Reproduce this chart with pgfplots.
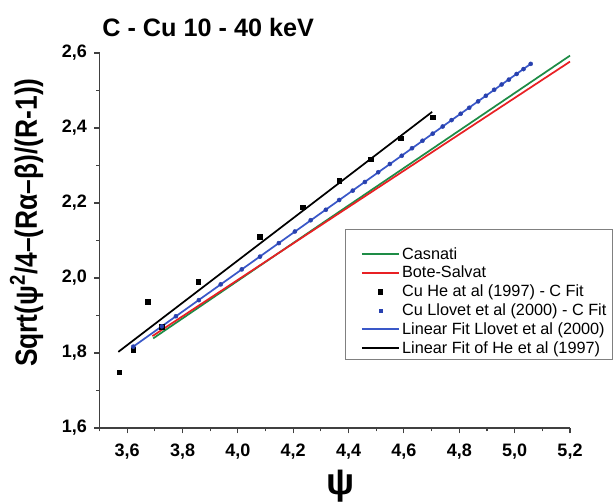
\documentclass[border=0pt]{standalone}
\usepackage{fontspec}
\setmainfont{Liberation Sans}
\usepackage{pgfplots}
\pgfplotsset{compat=1.18}
\definecolor{cgreen}{RGB}{30,140,70}
\definecolor{cred}{RGB}{232,32,36}
\definecolor{cblue}{RGB}{58,88,200}
\definecolor{cbluem}{RGB}{40,65,175}
\begin{document}
\begin{tikzpicture}
\begin{axis}[
  name=ax, at={(0pt,0pt)}, anchor=south west,
  scale only axis, width=352.875pt, height=281.25pt,
  xmin=3.5, xmax=5.2, ymin=1.6, ymax=2.6,
  axis lines*=left,
  axis line style={line width=0.8pt, draw=black!75},
  xtick={3.6,3.8,4.0,4.2,4.4,4.6,4.8,5.0,5.2},
  minor xtick={3.5,3.7,3.9,4.1,4.3,4.5,4.7,4.9,5.1},
  ytick={1.6,1.8,2.0,2.2,2.4,2.6},
  minor ytick={1.7,1.9,2.1,2.3,2.5},
  tick align=outside,
  major tick length=4pt, minor tick length=2.5pt,
  every tick/.style={line width=0.8pt, black!75},
  /pgf/number format/assume math mode=true,
  /pgf/number format/.cd, fixed, fixed zerofill, precision=1, use comma, /pgfplots/.cd,
  ticklabel style={font=\bfseries\fontsize{13.5}{14}\selectfont},
  xticklabel style={yshift=-4.5pt},
  yticklabel style={xshift=-2pt},
  clip=false,
  legend style={at={(rel axis cs:0.555,0.4875)}, anchor=north west, draw=none, fill=none,
    font=\fontsize{12.2}{14}\selectfont, inner sep=0pt, row sep=0.95pt,
    nodes={inner sep=1.4pt}},
  legend cell align=left,
]
% Casnati
\addplot[draw=cgreen, line width=1.3pt, no marks,
  legend image code/.code={\draw[cgreen, line width=1.5pt] (0pt,0.3pt) -- (28pt,0.3pt);}]
  coordinates {(3.694,1.839) (4.321,2.154) (5.2,2.593)};
\addlegendentry{Casnati}
% Bote-Salvat
\addplot[draw=cred, line width=1.3pt, no marks,
  legend image code/.code={\draw[cred, line width=1.5pt] (0pt,0.3pt) -- (28pt,0.3pt);}]
  coordinates {(3.691,1.845) (4.321,2.151) (5.2,2.577)};
\addlegendentry{Bote-Salvat}
% He points
\addplot[only marks, mark=square*, mark size=1.7pt, black,
  legend image code/.code={\fill[black] (12.4pt,-1.6pt) rectangle (15.6pt,1.6pt);}] coordinates {
(3.571,1.749) (3.622,1.808) (3.674,1.937) (3.725,1.870) (3.857,1.990) (4.080,2.110)
(4.234,2.188) (4.366,2.259) (4.480,2.317) (4.588,2.373) (4.704,2.429)};
\addlegendentry{Cu He at al (1997) - C Fit}
% Llovet points
\addplot[only marks, mark=*, mark size=1.5pt, cbluem,
  legend image code/.code={\fill[cbluem] (12.7pt,-1.3pt) rectangle (15.3pt,1.3pt);}] coordinates {
(3.622,1.817) (3.725,1.871) (3.776,1.898) (3.859,1.941) (3.938,1.983) (4.014,2.023)
(4.080,2.057) (4.148,2.093) (4.206,2.124) (4.263,2.154) (4.318,2.182) (4.366,2.208)
(4.415,2.233) (4.459,2.256) (4.507,2.282) (4.549,2.304) (4.592,2.326) (4.629,2.346)
(4.667,2.366) (4.704,2.385) (4.740,2.404) (4.772,2.421) (4.805,2.438) (4.836,2.454)
(4.868,2.471) (4.896,2.486) (4.926,2.502) (4.953,2.516) (4.979,2.529) (5.007,2.544)
(5.032,2.557) (5.058,2.571)};
\addlegendentry{Cu Llovet et al (2000) - C Fit}
% Linear fit Llovet
\addplot[draw=cblue, line width=1.3pt, no marks,
  legend image code/.code={\draw[cblue, line width=1.5pt] (0pt,0.3pt) -- (28pt,0.3pt);}]
  coordinates {(3.622,1.817) (5.058,2.571)};
\addlegendentry{Linear Fit Llovet et al (2000)}
% Linear fit He
\addplot[draw=black, line width=1.3pt, no marks,
  legend image code/.code={\draw[black, line width=1.5pt] (0pt,0.3pt) -- (28pt,0.3pt);}]
  coordinates {(3.568,1.803) (4.702,2.443)};
\addlegendentry{Linear Fit of He et al (1997)}
\end{axis}
% legend frame
\draw[black!50, line width=0.6pt] (184.1pt,149.0pt) rectangle (384.4pt,51.5pt);
% title
\node[anchor=base, font=\bfseries\fontsize{18.9}{21}\selectfont] at (81.5pt,293.25pt) {C - Cu 10 - 40 keV};
% y label
\node[anchor=base, rotate=90, font=\bfseries\fontsize{23}{24}\selectfont] at (-46.9pt,154pt)
  {\scalebox{0.86}[1]{Sqrt(ψ\textsuperscript{2}/4–(Rα–β)/(R-1))}};
% x label
\node[anchor=base, font=\bfseries\fontsize{28}{30}\selectfont] at (180.9pt,-49.5pt) {ψ};
\pgfresetboundingbox
\path (-74.625pt,-56.25pt) rectangle (385.125pt,321pt);
\end{tikzpicture}
\end{document}
